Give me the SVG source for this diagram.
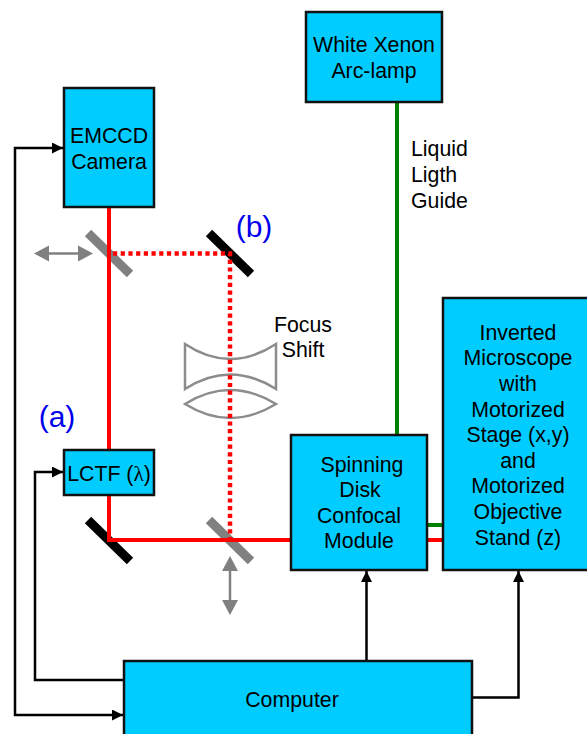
<svg xmlns="http://www.w3.org/2000/svg" width="587" height="734" viewBox="0 0 587 734">
<style>
text{font-family:"Liberation Sans",Arial,sans-serif;font-size:21.3px;fill:#000;text-anchor:middle}
.box{fill:#00ccff;stroke:#111;stroke-width:2.5}
.k{fill:none;stroke:#000;stroke-width:2.5}
.r{fill:none;stroke:#ff0000;stroke-width:4}
.d{fill:none;stroke:#ff0000;stroke-width:4.500;stroke-dasharray:4.200 3.500}
.g{fill:none;stroke:#008000;stroke-width:4}
.gm{stroke:#808080;stroke-width:9;fill:none}
.bm{stroke:#000;stroke-width:9;fill:none}
.ga{stroke:#808080;stroke-width:2.5;fill:none}
.gh{fill:#808080}
.lens{fill:#fff;stroke:#8c8c8c;stroke-width:2.5}
.lab{fill:#0000ee;font-size:30px}
</style>
<defs>
<marker id="ah" markerUnits="userSpaceOnUse" markerWidth="11" markerHeight="11" refX="11" refY="5.500" orient="auto-start-reverse"><path d="M0 0L11 5.500L0 11Z" fill="#000"/></marker>
</defs>
<g id="mirror-top-left"><path class="gm" d="M88 233L130 274"/></g>
<g id="mirror-b"><path class="bm" d="M209 233L251 274"/></g>
<g id="mirror-a"><path class="bm" d="M88 520L130 561"/></g>
<g id="mirror-bottom"><path class="gm" d="M209 520L251 561"/></g>
<g id="lens-concave"><path class="lens" d="M185 344Q230 374 276 344V389Q230 360 185 389Z"/></g>
<g id="lens-convex"><path class="lens" d="M185 404Q230 376 276 404Q230 432 185 404Z"/></g>
<g id="connectors">
<path class="g" d="M397 102V435"/>
<path class="g" d="M427 525H443"/>
<path class="r" d="M109 208V450"/>
<path class="r" d="M109 495V540H291"/>
<path class="r" d="M427 540H443"/>
<path class="d" d="M113 253.500H230V540"/>
<path class="k" marker-end="url(#ah)" d="M124 680H35V472H63"/>
<path class="k" marker-start="url(#ah)" marker-end="url(#ah)" d="M63 148H15V715H123"/>
<path class="k" marker-end="url(#ah)" d="M366.500 661V571"/>
<path class="k" marker-end="url(#ah)" d="M472 697.500H518.500V571"/>
<g id="arrow-h"><path class="ga" d="M48 253.500H80"/><path class="gh" d="M34 253.500L49 245.500V261.500Z"/><path class="gh" d="M93 253.500L78 245.500V261.500Z"/></g>
<g id="arrow-v"><path class="ga" d="M230 570V602"/><path class="gh" d="M230 556L222 571H238Z"/><path class="gh" d="M230 615L222 600H238Z"/></g>
</g>
<g id="lamp"><rect class="box" x="306" y="12" width="136" height="90"/><text x="374" y="52">White Xenon</text><text x="374" y="78">Arc-lamp</text></g>
<g id="camera"><rect class="box" x="64" y="88" width="90" height="119"/><text x="109" y="143">EMCCD</text><text x="109" y="169">Camera</text></g>
<g id="lctf"><rect class="box" x="64" y="450" width="90" height="45"/><text x="109" y="481">LCTF (<tspan style="font-family:'Liberation Serif',serif">λ</tspan>)</text></g>
<g id="confocal"><rect class="box" x="291" y="435" width="136" height="135"/><text x="362" y="472">Spinning</text><text x="360" y="497">Disk</text><text x="359" y="523">Confocal</text><text x="359" y="548">Module</text></g>
<g id="microscope"><rect class="box" x="443" y="298" width="150" height="272"/><text x="518" y="340">Inverted</text><text x="518" y="365">Microscope</text><text x="518" y="391">with</text><text x="518" y="417">Motorized</text><text x="518" y="442">Stage (x,y)</text><text x="518" y="468">and</text><text x="518" y="493">Motorized</text><text x="518" y="519">Objective</text><text x="518" y="545">Stand (z)</text></g>
<g id="computer"><rect class="box" x="124" y="661" width="348" height="80"/><text x="292" y="707">Computer</text></g>
<g id="labels">
<text x="411" y="156" style="text-anchor:start">Liquid</text><text x="411" y="182" style="text-anchor:start">Ligth</text><text x="411" y="208" style="text-anchor:start">Guide</text>
<text x="303" y="332">Focus</text><text x="303" y="357">Shift</text>
<text class="lab" x="254" y="237">(b)</text><text class="lab" x="57" y="427">(a)</text>
</g>
</svg>
